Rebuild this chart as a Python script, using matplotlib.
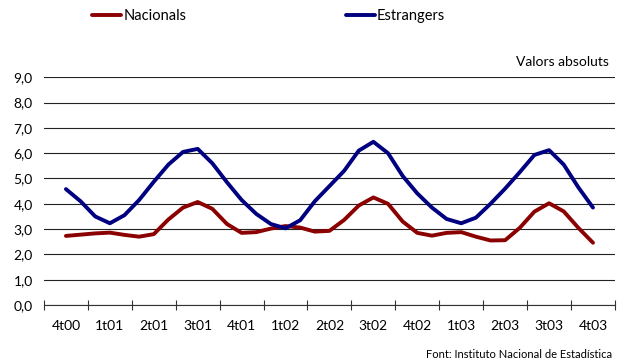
import numpy as np
import matplotlib.pyplot as plt
from matplotlib.ticker import FixedLocator, NullFormatter

# trimestres (etiquetes de l'eix x)
trimestres = ["4t00", "1t01", "2t01", "3t01", "4t01", "1t02", "2t02",
              "3t02", "4t02", "1t03", "2t03", "3t03", "4t03"]

# valors mensuals, de 4t00 a 4t03 (37 punts)
nacionals = [2.73, 2.78, 2.83, 2.86, 2.77, 2.70, 2.80, 3.38, 3.85, 4.07,
             3.80, 3.20, 2.85, 2.88, 3.02, 3.12, 3.06, 2.90, 2.93, 3.36,
             3.93, 4.25, 4.00, 3.30, 2.85, 2.74, 2.85, 2.88, 2.70, 2.55,
             2.56, 3.05, 3.69, 4.02, 3.70, 3.05, 2.46]
estrangers = [4.58, 4.10, 3.50, 3.23, 3.55, 4.15, 4.87, 5.55, 6.05, 6.17,
              5.60, 4.85, 4.15, 3.60, 3.20, 3.03, 3.35, 4.10, 4.70, 5.30,
              6.10, 6.45, 6.00, 5.10, 4.41, 3.85, 3.40, 3.23, 3.45, 4.00,
              4.60, 5.25, 5.93, 6.12, 5.55, 4.65, 3.85]

plt.rcParams['font.family'] = ['Lato', 'DejaVu Sans']

fig = plt.figure(figsize=(6.3, 3.62), dpi=100)
ax = fig.add_axes([0.0698, 0.1575, 0.9063, 0.629])

x = np.arange(len(nacionals)) / 3.0
l1, = ax.plot(x, nacionals, color="#8b0000", lw=2.8, solid_joinstyle="round",
              solid_capstyle="round", label="Nacionals")
l2, = ax.plot(x, estrangers, color="#000080", lw=2.8, solid_joinstyle="round",
              solid_capstyle="round", label="Estrangers")

ax.set_xlim(-0.5, len(trimestres) - 0.5)
ax.set_ylim(0, 9)
ax.set_yticks(np.arange(0, 10, 1))
ax.set_yticklabels([("%.1f" % v).replace(".", ",") for v in range(10)], fontsize=10)
ax.yaxis.grid(True, color="#222222", lw=0.8)
ax.set_axisbelow(True)
ax.tick_params(axis="y", length=0, pad=8)

# marques entre trimestres, etiquetes al centre
ax.xaxis.set_major_locator(FixedLocator(np.arange(-0.5, len(trimestres), 1)))
ax.xaxis.set_major_formatter(NullFormatter())
ax.xaxis.set_minor_locator(FixedLocator(np.arange(len(trimestres))))
ax.set_xticklabels(trimestres, minor=True, fontsize=10)
ax.tick_params(axis="x", which="major", direction="inout", length=7, color="#333333")
ax.tick_params(axis="x", which="minor", length=0, pad=11)

for s in ["left", "right", "top"]:
    ax.spines[s].set_visible(False)
ax.spines["bottom"].set_color("#333333")

fig.legend(handles=[l1], loc="center left", bbox_to_anchor=(0.125, 0.955),
           frameon=False, fontsize=10.5, handlelength=2.0, handletextpad=0.15)
fig.legend(handles=[l2], loc="center left", bbox_to_anchor=(0.528, 0.955),
           frameon=False, fontsize=10.5, handlelength=2.0, handletextpad=0.15)

fig.text(0.966, 0.83, "Valors absoluts", ha="right", va="center", fontsize=10)
fig.text(0.972, 0.022, "Font: Instituto Nacional de Estadística", ha="right",
         va="center", fontsize=8)

fig.savefig("out.png", dpi=100)
